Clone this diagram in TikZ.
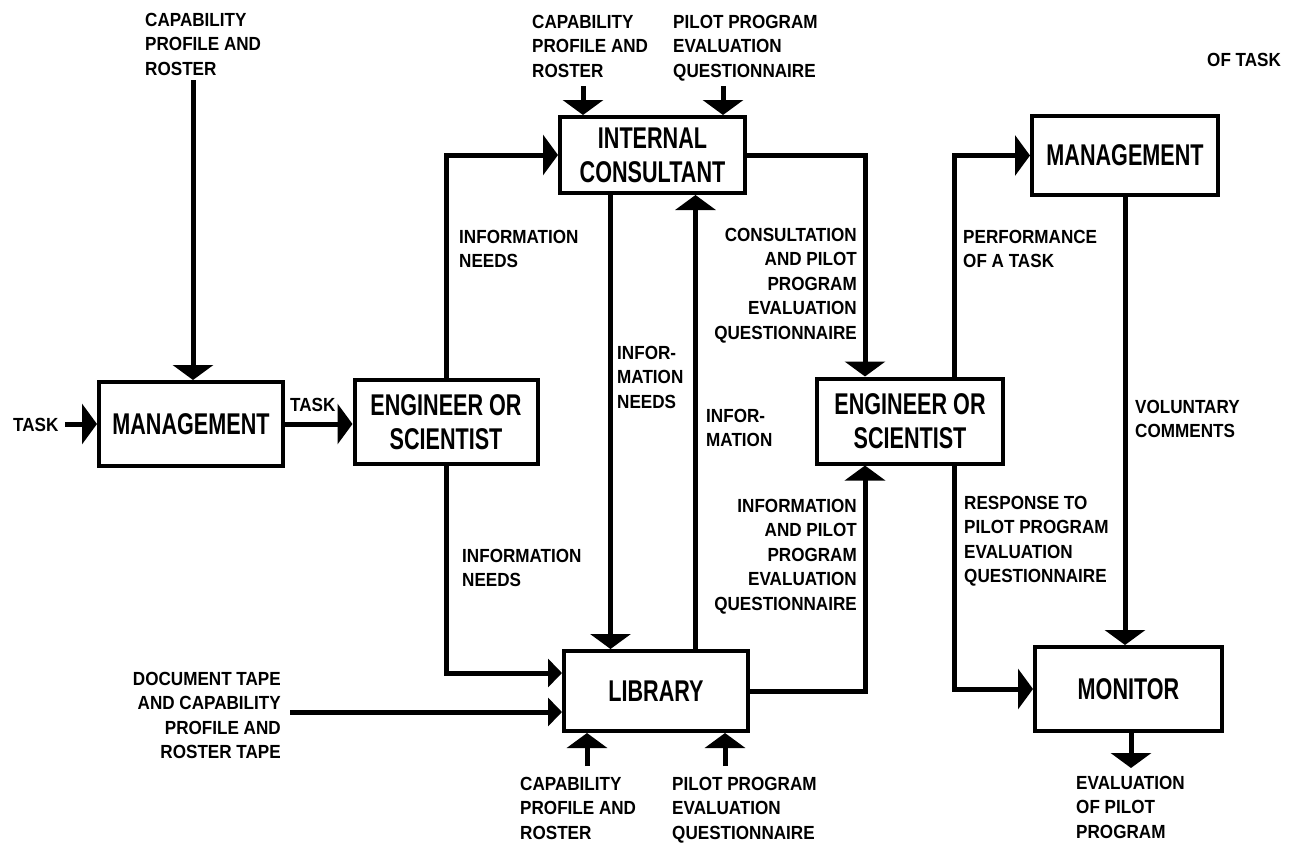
\documentclass[tikz,border=0pt]{standalone}
\usepackage{fontspec}
\newfontfamily\lblfont{Liberation Sans}[FakeStretch=0.9]
\newfontfamily\boxfont{Liberation Sans}[FakeStretch=0.72]
\usetikzlibrary{arrows.meta,calc}
\begin{document}
\begin{tikzpicture}[x=1pt,y=-1pt,
  box/.style={draw,line width=4pt,inner sep=0pt,align=center,font=\boxfont\bfseries\fontsize{30}{34}\selectfont},
  lbl/.style={inner sep=0pt,font=\lblfont\bfseries\fontsize{19}{24.5}\selectfont},
  flow/.style={line width=5pt,-{Triangle[width=40pt,length=15pt]}},
  flown/.style={line width=5pt,-{Triangle[width=28pt,length=14pt]}}]
\useasboundingbox (0,0) rectangle (1304,844);
% boxes
\node[box,minimum width=184pt,minimum height=84pt] (m1) at (191,424) {MANAGEMENT};
\node[box,minimum width=183pt,minimum height=84pt] (e1) at (446,422) {ENGINEER OR\\SCIENTIST};
\node[box,minimum width=185pt,minimum height=76pt] (ic) at (652.5,155) {INTERNAL\\CONSULTANT};
\node[box,minimum width=184pt,minimum height=80pt] (lib) at (656,691) {LIBRARY};
\node[box,minimum width=186pt,minimum height=85pt] (e2) at (910,421) {ENGINEER OR\\SCIENTIST};
\node[box,minimum width=186pt,minimum height=79pt] (m2) at (1125,155.5) {MANAGEMENT};
\node[box,minimum width=187pt,minimum height=84pt] (mon) at (1128.5,689) {MONITOR};
% free ends
\coordinate (c1) at (193,80);
\coordinate (t0) at (65,424);
\coordinate (dt) at (290,712);
\coordinate (p1) at (583,86);
\coordinate (p2) at (723,86);
\coordinate (q1) at (587,766);
\coordinate (q2) at (725,766);
\coordinate (ev) at (1131,768);
\coordinate (a1) at ($(ic.south)+(-42,0)$);
\coordinate (a2) at ($(ic.south)+(43,0)$);
\coordinate (e2nw) at ($(e2.north)+(-45,0)$);
\coordinate (e2sw) at ($(e2.south)+(-45,0)$);
\coordinate (e2ne) at ($(e2.north)+(44,0)$);
\coordinate (e2se) at ($(e2.south)+(44,0)$);
\coordinate (libw1) at ($(lib.west)+(0,-18)$);
% connectors
\draw[flow] (c1) -- (c1 |- m1.north);
\draw[flow] (t0) -- (m1.west);
\draw[flow] (m1.east) -- (m1.east -| e1.west);
\draw[flow] (e1.north) |- (ic.west);
\draw[flown] (e1.south) |- (libw1);
\draw[flown] (dt) -- (dt -| lib.west);
\draw[flow] (a1) -- (a1 |- lib.north);
\draw[flow] (a2 |- lib.north) -- (a2);
\draw[flow] (ic.east) -| (e2nw);
\draw[flow] (lib.east) -| (e2sw);
\draw[flow] (e2ne) |- (m2.west);
\draw[flow] (e2se) |- (mon.west);
\draw[flow] (m2.south) -- (m2.south |- mon.north);
\draw[flow] (mon.south -| ev) -- (ev);
\draw[flow] (p1) -- (p1 |- ic.north);
\draw[flow] (p2) -- (p2 |- ic.north);
\draw[flow] (q1) -- (q1 |- lib.south);
\draw[flow] (q2) -- (q2 |- lib.south);
% labels
\node[lbl,anchor=north west,align=left] (l1) at (145,13) {CAPABILITY\\PROFILE AND\\ROSTER};
\node[lbl,anchor=north west,align=left] (l2) at (532,15) {CAPABILITY\\PROFILE AND\\ROSTER};
\node[lbl,anchor=north west,align=left] (l3) at (673,15) {PILOT PROGRAM\\EVALUATION\\QUESTIONNAIRE};
\node[lbl,anchor=north west] (l4) at (1207,53) {OF TASK};
\node[lbl,anchor=north west] (l5) at (13,418) {TASK};
\node[lbl,anchor=north west] (l6) at (290,398) {TASK};
\node[lbl,anchor=north west,align=left] (l7) at (459,230) {INFORMATION\\NEEDS};
\node[lbl,anchor=north west,align=left] (l8) at (462,549) {INFORMATION\\NEEDS};
\node[lbl,anchor=north west,align=left] (l9) at (617,346) {INFOR-\\MATION\\NEEDS};
\node[lbl,anchor=north west,align=left] (l10) at (706,409) {INFOR-\\MATION};
\node[lbl,anchor=north east,align=right] (l11) at (857,228) {CONSULTATION\\AND PILOT\\PROGRAM\\EVALUATION\\QUESTIONNAIRE};
\node[lbl,anchor=north east,align=right] (l12) at (857,499) {INFORMATION\\AND PILOT\\PROGRAM\\EVALUATION\\QUESTIONNAIRE};
\node[lbl,anchor=north east,align=right] (l13) at (281,672) {DOCUMENT TAPE\\AND CAPABILITY\\PROFILE AND\\ROSTER TAPE};
\node[lbl,anchor=north west,align=left] (l14) at (520,777) {CAPABILITY\\PROFILE AND\\ROSTER};
\node[lbl,anchor=north west,align=left] (l15) at (672,777) {PILOT PROGRAM\\EVALUATION\\QUESTIONNAIRE};
\node[lbl,anchor=north west,align=left] (l16) at (963,230) {PERFORMANCE\\OF A TASK};
\node[lbl,anchor=north west,align=left] (l17) at (1135,400) {VOLUNTARY\\COMMENTS};
\node[lbl,anchor=north west,align=left] (l18) at (964,496) {RESPONSE TO\\PILOT PROGRAM\\EVALUATION\\QUESTIONNAIRE};
\node[lbl,anchor=north west,align=left] (l19) at (1076,776) {EVALUATION\\OF PILOT\\PROGRAM};
\end{tikzpicture}
\end{document}
